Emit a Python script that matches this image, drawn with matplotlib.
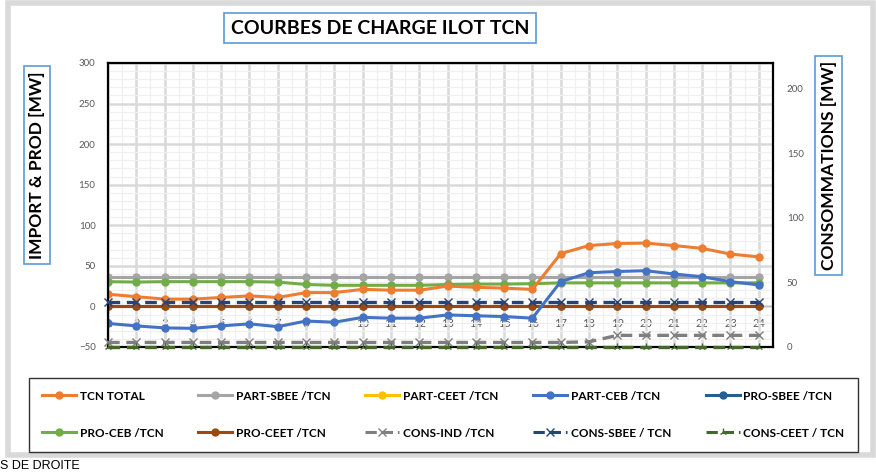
import numpy as np
import matplotlib.pyplot as plt
from matplotlib.patches import Rectangle
from matplotlib.lines import Line2D

plt.rcParams['font.family'] = ['Lato', 'DejaVu Sans']

# heures
heures = list(range(1, 25))

# axe gauche : import & prod [MW]
tcn_total = [15, 12, 9, 9, 11, 13, 11, 17, 17, 21, 20, 20, 25, 23.5, 22.5, 21,
             65, 75, 77.5, 78, 75, 71.5, 64.5, 61]
part_sbee = [36.5] * 24
part_ceet = [0] * 24
part_ceb = [-21, -24, -26.5, -27, -24, -21.5, -25, -18, -19.5, -13.5, -14.5, -14.5,
            -10.5, -11.5, -12.5, -14.5, 30.5, 41.5, 43, 44, 40, 36.5, 30.5, 26.5]
pro_sbee = [0] * 24
pro_ceb = [30.5, 30, 30.5, 30.5, 30.5, 30.5, 30, 27, 26, 26, 26, 26,
           27, 27.5, 27.5, 28, 29, 29, 29, 29, 29, 29, 29, 29]
pro_ceet = [0] * 24

# axe droit : consommations [MW]
cons_ind = [3.5] * 17 + [4, 9, 9, 9, 9, 9, 9]
cons_sbee = [35] * 24
cons_ceet = [0] * 24

yticks_gauche = [-50, 0, 50, 100, 150, 200, 250, 300]
yticks_droite = [0, 50, 100, 150, 200]

fig = plt.figure(figsize=(8.76, 4.75), dpi=100)
fig.patch.set_facecolor('white')
fig.patches.append(Rectangle((0.009, 0.042), 0.988, 0.951, transform=fig.transFigure,
                             fill=False, edgecolor='#d9d9d9', lw=4))

ax = fig.add_axes([0.1233, 0.2695, 0.759, 0.598])
ax.set_xlim(1, 24.5)
ax.set_ylim(-50, 300)
ax.set_yticks(yticks_gauche)
ax.set_yticks(np.arange(-50, 301, 10), minor=True)
ax.set_xticks(heures)
ax.set_xticks(np.arange(1.5, 24.6, 1), minor=True)
ax.grid(which='major', color='#d9d9d9', lw=1.8)
ax.grid(which='minor', color='#f0f0f0', lw=0.9)
ax.set_axisbelow(True)
ax.tick_params(axis='x', which='both', length=0, labelbottom=False)
ax.tick_params(axis='y', which='both', length=0, labelsize=7, labelcolor='#595959', pad=9)
for s in ax.spines.values():
    s.set_color('black'); s.set_linewidth(1.6)
ax.axhline(0, color='#bfbfbf', lw=0.8, zorder=1)

# etiquettes de l'axe x sur la ligne 0
frac0 = (0 - ax.get_ylim()[0]) / (ax.get_ylim()[1] - ax.get_ylim()[0])
sec = ax.secondary_xaxis(frac0)
sec.set_xticks(heures)
sec.tick_params(length=0, labelsize=8, labelcolor='#595959', pad=8)
sec.spines['bottom'].set_visible(False)

mk = dict(marker='o', markersize=5, lw=2.2)
ax.plot(heures, part_ceet, color='#FFC000', **mk)
ax.plot(heures, pro_sbee, color='#255E91', **mk)
ax.plot(heures, pro_ceet, color='#9E480E', **mk)
ax.plot(heures, part_sbee, color='#A5A5A5', **mk)
ax.plot(heures, pro_ceb, color='#70AD47', **mk)
ax.plot(heures, part_ceb, color='#4472C4', **mk)
ax.plot(heures, tcn_total, color='#ED7D31', **mk)

ax2 = ax.twinx()
ax2.set_ylim(0, 220)
ax2.set_yticks(yticks_droite)
ax2.tick_params(axis='y', length=0, labelsize=7, labelcolor='#595959', pad=10)
for s in ax2.spines.values():
    s.set_visible(False)
dash = dict(lw=2.4, dashes=(3.5, 2), markersize=6, clip_on=False)
ax2.plot(heures, cons_ind, color='#7F7F7F', marker='x', **dash)
ax2.plot(heures, cons_sbee, color='#264478', marker='x', **dash)
ax2.plot(heures, cons_ceet, color='#43682B', marker='2', **dash)

# titres
fig.text(0.434, 0.941, 'COURBES DE CHARGE ILOT TCN', fontsize=14, fontweight='bold',
         ha='center', va='center',
         bbox=dict(boxstyle='square,pad=0.35', fc='white', ec='#5B9BD5', lw=1.2))
fig.text(0.0425, 0.652, 'IMPORT & PROD [MW]', rotation=90, fontsize=12.5, fontweight='bold',
         ha='center', va='center',
         bbox=dict(boxstyle='square,pad=0.3', fc='white', ec='#5B9BD5', lw=1.2))
fig.text(0.946, 0.652, 'CONSOMMATIONS [MW]', rotation=90, fontsize=12.5, fontweight='bold',
         ha='center', va='center',
         bbox=dict(boxstyle='square,pad=0.3', fc='white', ec='#5B9BD5', lw=1.2))
fig.text(0.0, 0.019, 'S DE DROITE', fontsize=9, family='Liberation Sans', va='center')

# legende (ordre colonne par colonne)
def h(c, m='o', ls='-', ms=5):
    return Line2D([], [], color=c, marker=m, markersize=ms, lw=2.2, ls=ls)

handles = [h('#ED7D31'), h('#70AD47'),
           h('#A5A5A5'), h('#9E480E'),
           h('#FFC000'), h('#7F7F7F', 'x', '--', 6),
           h('#4472C4'), h('#264478', 'x', '--', 6),
           h('#255E91'), h('#43682B', '2', '--', 6)]
labels = ['TCN TOTAL', 'PRO-CEB /TCN',
          'PART-SBEE /TCN', 'PRO-CEET /TCN',
          'PART-CEET /TCN', 'CONS-IND /TCN',
          'PART-CEB /TCN', 'CONS-SBEE / TCN',
          'PRO-SBEE /TCN', 'CONS-CEET / TCN']
leg = fig.legend(handles, labels, ncol=5, mode='expand', loc='center',
                 bbox_to_anchor=(0.033, 0.0505, 0.946, 0.1535), borderaxespad=0,
                 prop=dict(family='Lato', weight='bold', size=8.5),
                 frameon=True, fancybox=False, edgecolor='black', borderpad=1.1,
                 labelspacing=2.2, handlelength=2.9, handletextpad=0.3)
leg.get_frame().set_linewidth(1.0)

fig.savefig('out.png', dpi=100)
